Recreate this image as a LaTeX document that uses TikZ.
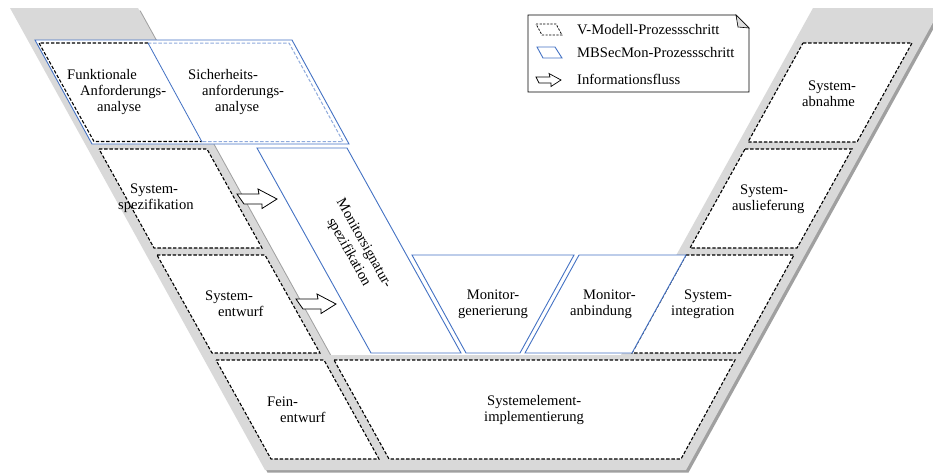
\documentclass[tikz,border=0pt]{standalone}
\usepackage{fontspec}
\setmainfont{Liberation Serif}
\definecolor{vgray}{RGB}{217,217,217}
\definecolor{vshadow}{RGB}{160,160,160}
\definecolor{mbblue}{RGB}{68,114,196}
\definecolor{mblight}{RGB}{143,170,220}
\newcommand{\lblfont}{\fontsize{14.6}{16}\selectfont}
\tikzset{
  vstep/.style={draw=black, line width=1.1pt, dash pattern=on 3.4pt off 1.8pt},
  vfill/.style={fill=white},
  mstep/.style={draw=mbblue, line width=0.9pt, fill=white},
  mlight/.style={draw=mblight, line width=1pt, dash pattern=on 3.4pt off 1.8pt},
  lbl/.style={align=left, anchor=west, inner sep=0pt, font=\lblfont},
  clbl/.style={align=center, inner sep=0pt, font=\lblfont},
  flowarrow/.pic={
    \draw[fill=white, line width=0.8pt] (0,0) -- (22,0) -- (21,-5) -- (40,5)
      -- (25,14.5) -- (25,10) -- (7,10) -- cycle;
  }
}
\begin{document}
\begin{tikzpicture}[x=1pt,y=-1pt]
\useasboundingbox (0,0) rectangle (933,475);
\clip (0,0) rectangle (933,475);

% V-shaped background with drop shadow
\fill[vshadow, shift={(2.5,2.5)}] (10,8) -- (138,8) -- (330,355) -- (621,355) -- (813,8)
  -- (941,8) -- (686,470) -- (265,470) -- cycle;
\fill[vgray] (10,8) -- (138,8) -- (330,355) -- (621,355) -- (813,8)
  -- (941,8) -- (686,470) -- (265,470) -- cycle;

% requirements analysis (functional + security)
\draw[mstep] (35,40) -- (292,40) -- (349,144) -- (92,144) -- cycle;
\draw[vstep] (148,43) -- (39,43) -- (94,141.5) -- (202,141.5);
\draw[mlight] (148,43) -- (289,43) -- (343,141.5) -- (202,141.5);
\draw[draw=mbblue, line width=0.8pt] (148,43) -- (202,142);
\node[lbl] (funkt) at (67,92) {Funktionale\\\hspace*{13pt}Anforderungs-\\\hspace*{30pt}analyse};
\node[lbl] (sich) at (188,92) {Sicherheits-\\\hspace*{14pt}anforderungs-\\\hspace*{27pt}analyse};

% left arm
\draw[vstep, vfill] (99,149) -- (207,149) -- (262,248) -- (154,248) -- cycle;
\node[lbl] (spez) at (118,198) {\hspace*{12pt}System-\\spezifikation};
\draw[vstep, vfill] (157,255) -- (265,255) -- (320,353) -- (212,353) -- cycle;
\node[lbl] (entw) at (205,304) {System-\\\hspace*{13pt}entwurf};
\draw[vstep, vfill] (216,360) -- (324,360) -- (379,459) -- (271,459) -- cycle;
\node[lbl] (fein) at (267,410) {Fein-\\\hspace*{13pt}entwurf};

% bottom
\draw[vstep, vfill] (334,360) -- (735,360) -- (681,459) -- (389,459) -- cycle;
\node[lbl] (impl) at (484,410) {\hspace*{3pt}Systemelement-\\implementierung};

% right arm
\draw[vstep, vfill] (803,43) -- (912,43) -- (857,142) -- (748,142) -- cycle;
\node[lbl] (abn) at (802,94) {\hspace*{6pt}System-\\abnahme};
\draw[vstep, vfill] (745,149) -- (852,149) -- (797,248) -- (690,248) -- cycle;
\node[lbl] (ausl) at (732,199) {\hspace*{8pt}System-\\auslieferung};
\draw[vstep, vfill] (686,255) -- (794,255) -- (740,353) -- (632,353) -- cycle;
\node[lbl] (integ) at (671,304) {\hspace*{13pt}System-\\integration};

% MBSecMon steps
\draw[mstep] (257,148) -- (347,148) -- (461,353) -- (371,353) -- cycle;
\node[clbl, rotate=-60.7, font=\fontsize{14.6}{17.5}\selectfont] (msig) at (356,248) {Monitorsignatur-\\spezifikation};
\draw[mstep] (412,255) -- (574,255) -- (520,353) -- (466,353) -- cycle;
\node[clbl] (mgen) at (493,304) {Monitor-\\generierung};
\draw[mstep] (579,255) -- (686,255) -- (632,353) -- (525,353) -- cycle;
\node[lbl] (manb) at (570,304) {\hspace*{13pt}Monitor-\\anbindung};

% information flow
\coordinate (f1) at (237,194);
\coordinate (f2) at (296,299);
\pic at (f1) {flowarrow};
\pic at (f2) {flowarrow};

% legend
\draw[line width=0.8pt, fill=white] (528,15) -- (736,15) -- (749,28) -- (749,92) -- (528,92) -- cycle;
\draw[line width=0.6pt, fill=gray!25] (736,15) -- (738,27) -- (749,28) -- cycle;
\draw[vstep, line width=0.8pt, dash pattern=on 2.2pt off 1.4pt] (536,24) -- (556,24) -- (562,35) -- (542,35) -- cycle;
\draw[draw=mbblue, line width=0.9pt] (537,47) -- (555,47) -- (562,58) -- (543,58) -- cycle;
\draw[line width=0.7pt, fill=white] (536,77) -- (550,77) -- (549,73.5) -- (561,80) -- (551,86.5) -- (551,83) -- (539,83) -- cycle;
\node[lbl] (lg1) at (577,30) {V-Modell-Prozessschritt};
\node[lbl] (lg2) at (577,53) {MBSecMon-Prozessschritt};
\node[lbl] (lg3) at (577,79) {Informationsfluss};
\end{tikzpicture}
\end{document}
